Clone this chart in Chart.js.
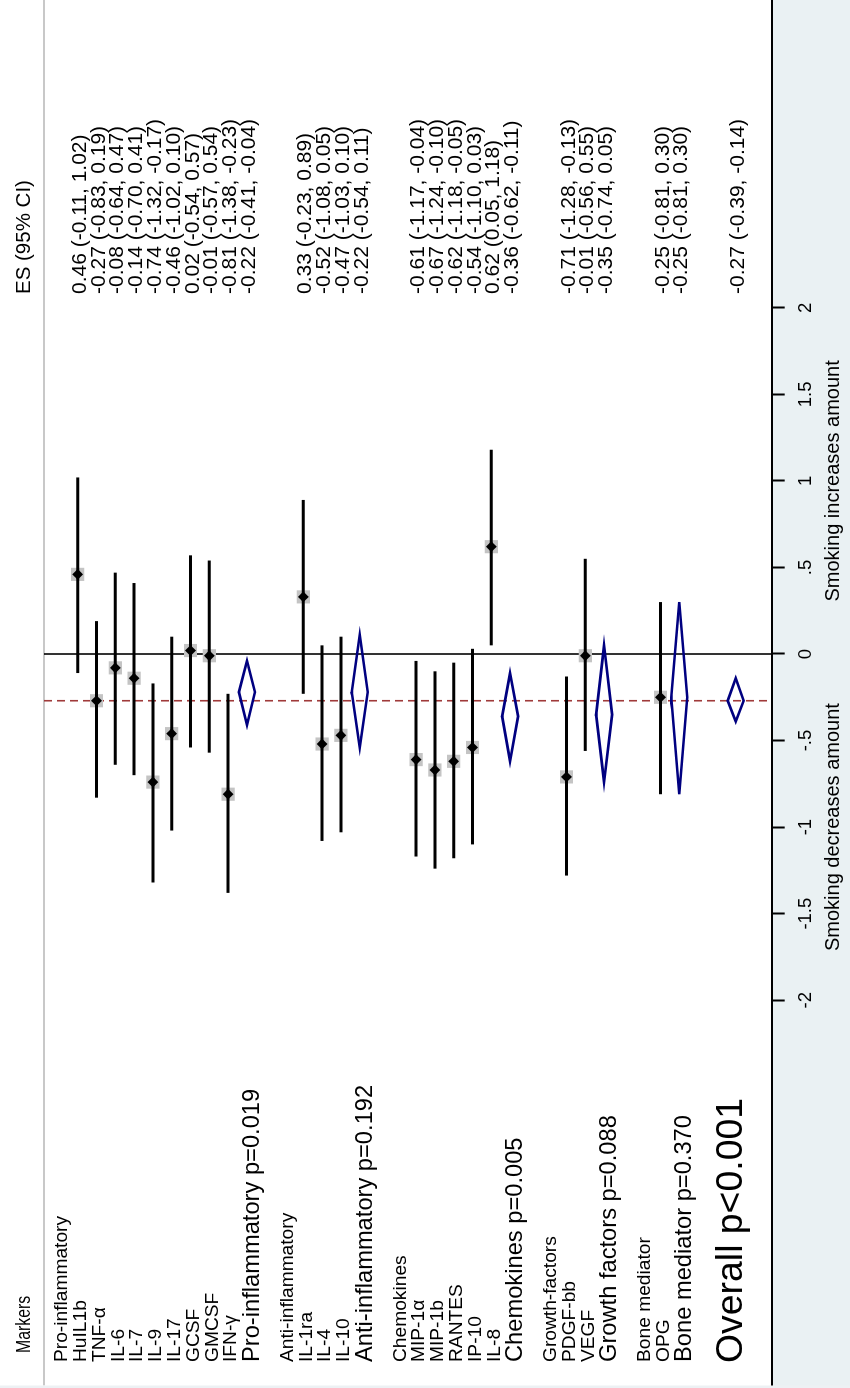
<!DOCTYPE html>
<html>
<head>
<meta charset="utf-8">
<script src="https://cdn.jsdelivr.net/npm/chart.js@4.4.0/dist/chart.umd.min.js"></script>
<style>
  html, body { margin: 0; padding: 0; background: #fff; overflow: hidden; }
  canvas { display: block; }
  /* the chart is drawn lying down here, then copied turned a quarter turn */
  #flatBox { position: absolute; left: -3000px; top: 0; width: 1388px; height: 850px; overflow: hidden; }
</style>
</head>
<body>
<canvas id="forest" width="850" height="1388"></canvas>
<div id="flatBox"><canvas id="flat" width="1388" height="850"></canvas></div>
<script>
// groups and their pooled results
const groups = ['Pro-inflammatory', 'Anti-inflammatory', 'Chemokines', 'Growth-factors', 'Bone mediator'];
const groupPLabels = ['Pro-inflammatory p=0.019', 'Anti-inflammatory p=0.192', 'Chemokines p=0.005', 'Growth factors p=0.088', 'Bone mediator p=0.370'];
const subEs = [-0.22, -0.22, -0.36, -0.35, -0.25];
const subLow = [-0.41, -0.54, -0.62, -0.74, -0.81];
const subHigh = [-0.04, 0.11, -0.11, 0.05, 0.30];

// single markers
const markers = ['HuIL1b', 'TNF-α', 'IL-6', 'IL-7', 'IL-9', 'IL-17', 'GCSF', 'GMCSF', 'IFN-γ',
  'IL-1ra', 'IL-4', 'IL-10',
  'MIP-1α', 'MIP-1b', 'RANTES', 'IP-10', 'IL-8',
  'PDGF-bb', 'VEGF',
  'OPG'];
const markerGroup = [0, 0, 0, 0, 0, 0, 0, 0, 0, 1, 1, 1, 2, 2, 2, 2, 2, 3, 3, 4];
const es = [0.46, -0.27, -0.08, -0.14, -0.74, -0.46, 0.02, -0.01, -0.81, 0.33, -0.52, -0.47, -0.61, -0.67, -0.62, -0.54, 0.62, -0.71, -0.01, -0.25];
const ciLow = [-0.11, -0.83, -0.64, -0.70, -1.32, -1.02, -0.54, -0.57, -1.38, -0.23, -1.08, -1.03, -1.17, -1.24, -1.18, -1.10, 0.05, -1.28, -0.56, -0.81];
const ciHigh = [1.02, 0.19, 0.47, 0.41, -0.17, 0.10, 0.57, 0.54, -0.23, 0.89, 0.05, 0.10, -0.04, -0.10, -0.05, 0.03, 1.18, -0.13, 0.55, 0.30];

const overallLabel = 'Overall p<0.001';
const overallEs = -0.27;
const overallLow = -0.39;
const overallHigh = -0.14;

const tickValues = [-2, -1.5, -1, -0.5, 0, 0.5, 1, 1.5, 2];
const tickLabels = ['-2', '-1.5', '-1', '-.5', '0', '.5', '1', '1.5', '2'];
const leftTitle = 'Smoking decreases amount';
const rightTitle = 'Smoking increases amount';

// layout (chart is drawn unrotated: 1388 wide, 850 high)
const W = 1388, H = 850;
const ROW0 = 21.3, ROW_H = 18.8;      // centre of first row, row pitch
const SEP = 44;                       // grey line under the headers
const AXIS = 771.7;                   // axis line
const ZERO = 734, UNIT = 173.1;       // pixel of 0 and pixels per unit
const LABEL_X = 26, ES_X = 1094;
const FONT = '"Liberation Sans", Arial, sans-serif';

// build the rows of the table
const rows = [{ type: 'head' }, { type: 'blank' }];
groups.forEach(function (g, gi) {
  rows.push({ type: 'group', label: g });
  markers.forEach(function (m, i) {
    if (markerGroup[i] === gi) rows.push({ type: 'study', label: m, es: es[i], lo: ciLow[i], hi: ciHigh[i] });
  });
  rows.push({ type: 'sub', label: groupPLabels[gi], es: subEs[gi], lo: subLow[gi], hi: subHigh[gi] });
  rows.push({ type: 'blank' });
});
rows.push({ type: 'blank' });
rows.push({ type: 'overall', label: overallLabel, es: overallEs, lo: overallLow, hi: overallHigh });

const half = 8 / ROW_H;

const datasets = [];
const boxes = [], dots = [];
rows.forEach(function (r, i) {
  if (r.type === 'study') {
    datasets.push({ data: [{ x: r.lo, y: i }, { x: r.hi, y: i }], showLine: true, borderColor: '#000',
      borderWidth: 3, pointRadius: 0, order: 2 });
    boxes.push({ x: r.es, y: i });
    dots.push({ x: r.es, y: i });
  }
  if (r.type === 'sub' || r.type === 'overall') {
    datasets.push({
      data: [{ x: r.lo, y: i }, { x: r.es, y: i - half }, { x: r.hi, y: i }, { x: r.es, y: i + half }, { x: r.lo, y: i }, { x: r.es, y: i - half }],
      showLine: true, borderColor: '#000080', borderWidth: 2.6, pointRadius: 0, order: 2
    });
  }
});
datasets.push({ data: boxes, pointStyle: 'rect', pointRadius: 9.3, backgroundColor: '#c4c4c4', borderWidth: 0, order: 3 });
datasets.push({ data: dots, pointStyle: 'rectRot', pointRadius: 5.4, backgroundColor: '#000', borderWidth: 0, order: 0 });

// copy the flat chart onto the page canvas, turned 90 degrees
function copyTurned(chart) {
  const out = document.getElementById('forest');
  const octx = out.getContext('2d');
  octx.save();
  octx.setTransform(1, 0, 0, 1, 0, 0);
  octx.fillStyle = '#fff';
  octx.fillRect(0, 0, out.width, out.height);
  octx.imageSmoothingEnabled = false;
  octx.setTransform(0, -1, 1, 0, 0, W);
  octx.drawImage(chart.canvas, 0, 0);
  // clean outer margin before the labels
  octx.fillStyle = '#fff';
  octx.fillRect(2.5, SEP + 1.2, 20, AXIS - SEP - 2.6);
  octx.fillStyle = '#edf1f4';
  octx.fillRect(0, 0, 2.5, H);
  octx.restore();
}

const forestText = {
  id: 'forestText',
  beforeDraw: function (chart) {
    const ctx = chart.ctx;
    ctx.save();
    ctx.fillStyle = '#fff';
    ctx.fillRect(0, 0, W, H);
    ctx.fillStyle = '#eaf1f3';
    ctx.fillRect(0, AXIS, W, H - AXIS);
    ctx.strokeStyle = '#c8c8c8';
    ctx.lineWidth = 2;
    ctx.beginPath();
    ctx.moveTo(2.5, SEP);
    ctx.lineTo(W, SEP);
    ctx.stroke();
    ctx.restore();
  },
  beforeDatasetsDraw: function (chart) {
    // no-effect line and the overall estimate line
    const ctx = chart.ctx, x = chart.scales.x;
    const bottom = chart.chartArea.bottom;
    ctx.save();
    ctx.lineWidth = 1.6;
    ctx.strokeStyle = '#000';
    ctx.beginPath();
    ctx.moveTo(x.getPixelForValue(0), SEP);
    ctx.lineTo(x.getPixelForValue(0), bottom);
    ctx.stroke();
    ctx.strokeStyle = '#a03a3a';
    ctx.setLineDash([8, 5]);
    ctx.beginPath();
    ctx.moveTo(x.getPixelForValue(overallEs), SEP);
    ctx.lineTo(x.getPixelForValue(overallEs), bottom);
    ctx.stroke();
    ctx.restore();
    ctx.beginPath();
  },
  afterDraw: function (chart) {
    const ctx = chart.ctx;
    const y = chart.scales.y, x = chart.scales.x;
    ctx.save();
    ctx.fillStyle = '#000';
    ctx.textAlign = 'left';
    ctx.textBaseline = 'alphabetic';
    rows.forEach(function (r, i) {
      const v = y.getPixelForValue(i);
      if (r.type === 'head') {
        ctx.font = '20.5px ' + FONT;
        ctx.fillText('ES (95% CI)', ES_X, v + 8.3);
        ctx.save();
        ctx.translate(35, v + 8.3);
        ctx.scale(0.8, 1);
        ctx.font = '19.8px ' + FONT;
        ctx.fillText('Markers', 0, 0);
        ctx.restore();
        return;
      }
      if (r.type === 'blank') return;
      if (r.type === 'group' || r.type === 'study') {
        ctx.font = '19.2px ' + FONT;
        ctx.fillText(r.label, LABEL_X, v + 8.3);
      } else if (r.type === 'sub') {
        ctx.font = '23.7px ' + FONT;
        ctx.fillText(r.label, LABEL_X, v + 12);
      } else {
        ctx.font = '37.4px ' + FONT;
        ctx.fillText(r.label, LABEL_X - 1, v + 6.3);
      }
      if (r.es !== undefined) {
        ctx.font = '21px ' + FONT;
        ctx.fillText(r.es.toFixed(2) + ' (' + r.lo.toFixed(2) + ', ' + r.hi.toFixed(2) + ')', ES_X, v + 8);
      }
    });
    ctx.font = '20px ' + FONT;
    ctx.textAlign = 'center';
    ctx.textBaseline = 'middle';
    ctx.fillText(leftTitle, x.getPixelForValue(-1), 833);
    ctx.fillText(rightTitle, x.getPixelForValue(1), 833);
    ctx.restore();
  },
  afterRender: function (chart) {
    copyTurned(chart);
  }
};

const chart = new Chart(document.getElementById('flat'), {
  type: 'scatter',
  data: { datasets: datasets },
  options: {
    responsive: false,
    animation: false,
    devicePixelRatio: 1,
    layout: { padding: 0, autoPadding: false },
    plugins: { legend: { display: false }, tooltip: { enabled: false } },
    scales: {
      x: {
        type: 'linear',
        position: 'bottom',
        min: -ZERO / UNIT,
        max: (W - ZERO) / UNIT,
        afterBuildTicks: function (s) { s.ticks = tickValues.map(function (v) { return { value: v }; }); },
        afterFit: function (s) { s.height = H - AXIS; s.paddingLeft = 0; s.paddingRight = 0; },
        grid: { drawOnChartArea: false, drawTicks: true, tickLength: 13, tickColor: '#000', tickWidth: 2 },
        border: { display: true, color: '#000', width: 2 },
        ticks: {
          autoSkip: false, maxRotation: 0, padding: 10, color: '#000',
          font: { family: FONT, size: 18.5 },
          callback: function (val, i) { return tickLabels[i]; }
        }
      },
      y: {
        type: 'linear',
        display: false,
        reverse: true,
        min: -ROW0 / ROW_H,
        max: (AXIS - ROW0) / ROW_H
      }
    }
  },
  plugins: [forestText]
});
copyTurned(chart);
</script>
</body>
</html>
